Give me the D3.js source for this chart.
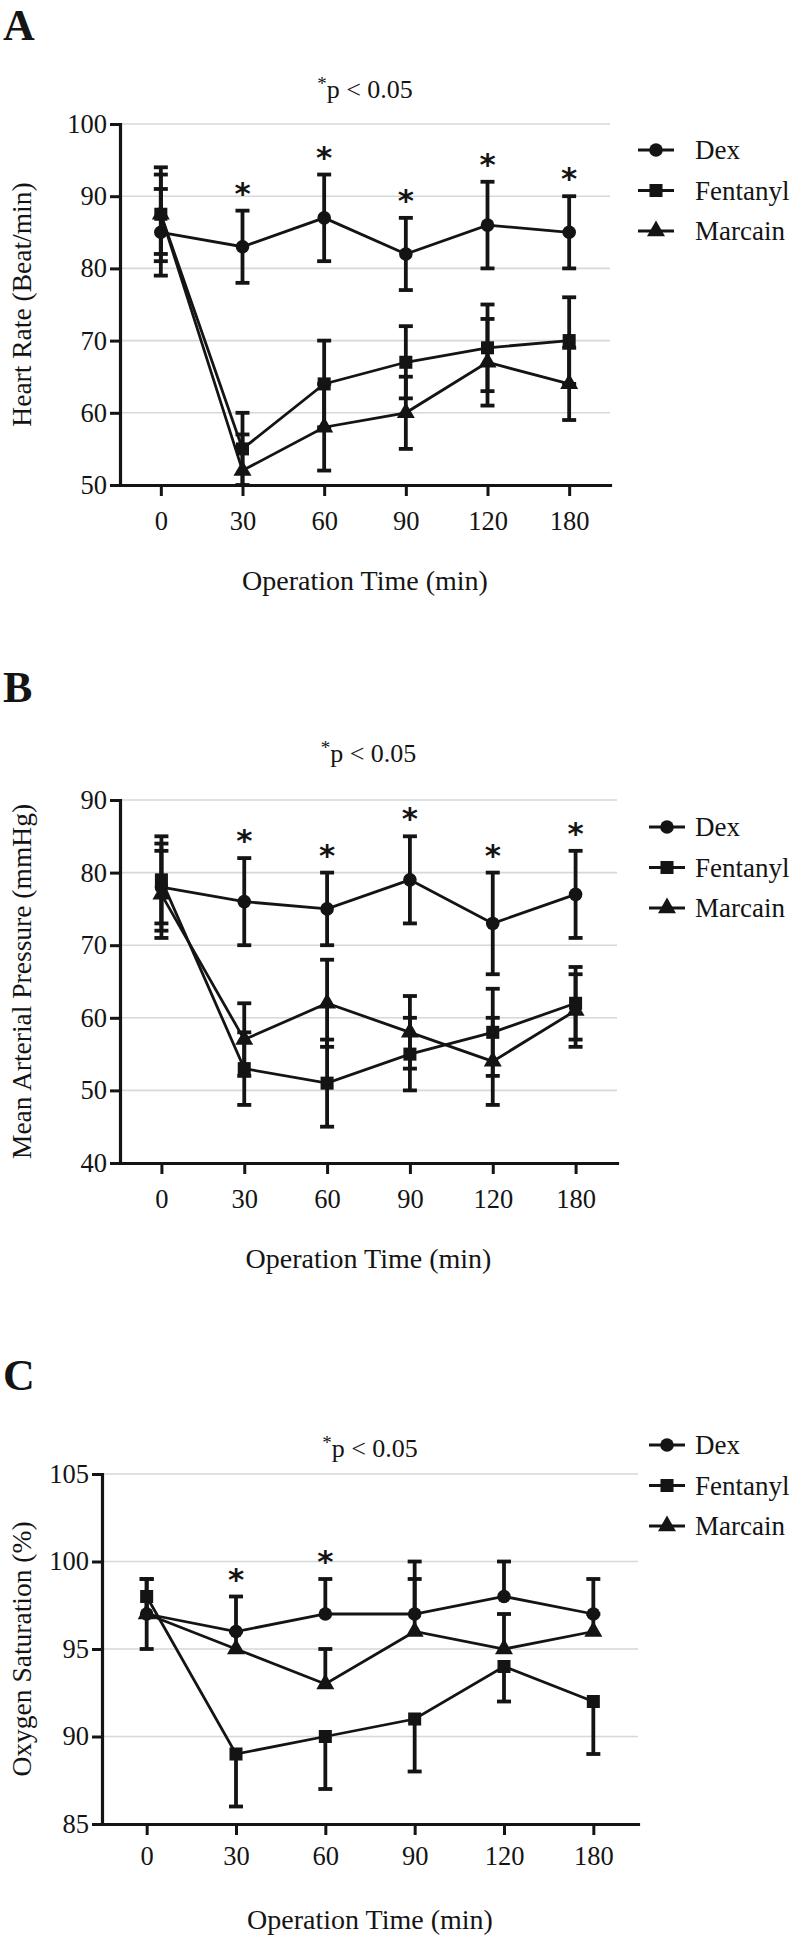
<!DOCTYPE html>
<html>
<head>
<meta charset="utf-8">
<script src="https://cdn.jsdelivr.net/npm/d3@7"></script>
<style>
  body { margin: 0; background: #fff; }
  svg { display: block; }
</style>
</head>
<body>
<div id="chart"></div>
<script>
// categories
const times = ["0", "30", "60", "90", "120", "180"];
const groups = ["Dex", "Fentanyl", "Marcain"];

// A - heart rate (mean, sd)
const hrDex = [85, 83, 87, 82, 86, 85];
const hrDexSd = [6, 5, 6, 5, 6, 5];
const hrFen = [87.5, 55, 64, 67, 69, 70];
const hrFenSd = [6.5, 5, 6, 5, 6, 6];
const hrMar = [87.5, 52, 58, 60, 67, 64];
const hrMarSd = [5.5, 5, 6, 5, 6, 5];
const hrTicks = [50, 60, 70, 80, 90, 100];
const hrStars = [false, true, true, true, true, true];

// B - mean arterial pressure
const mapDex = [78, 76, 75, 79, 73, 77];
const mapDexSd = [6, 6, 5, 6, 7, 6];
const mapFen = [79, 53, 51, 55, 58, 62];
const mapFenSd = [6, 5, 6, 5, 6, 5];
const mapMar = [77, 57, 62, 58, 54, 61];
const mapMarSd = [6, 5, 6, 5, 6, 5];
const mapTicks = [40, 50, 60, 70, 80, 90];
const mapStars = [false, true, true, true, true, true];

// C - oxygen saturation (one sided error bars)
const spoDex = [97, 96, 97, 97, 98, 97];
const spoDexSd = [2, 2, 2, 3, 2, 2];
const spoFen = [98, 89, 90, 91, 94, 92];
const spoFenSd = [3, 3, 3, 3, 2, 3];
const spoMar = [97, 95, 93, 96, 95, 96];
const spoMarSd = [2, 1, 2, 3, 2, 1];
const spoTicks = [85, 90, 95, 100, 105];
const spoStars = [false, true, true, false, false, false];

const ink = '#141414';
const serif = '"Liberation Serif", "Times New Roman", serif';

const svg = d3.select('#chart')
  .append('svg')
  .attr('width', 794)
  .attr('height', 1948)

const panels = [
  { letter: 'A', letterY: 40, top: 124, bottom: 485, left: 120, right: 610, titleY: 98,
    ticks: hrTicks, yLabel: 'Heart Rate (Beat/min)', xGap: 45, legendY: 150, legendX: 656,
    series: [[hrDex, hrDexSd, 'both'], [hrFen, hrFenSd, 'both'], [hrMar, hrMarSd, 'both']], stars: hrStars },
  { letter: 'B', letterY: 702, top: 800, bottom: 1163, left: 120, right: 617, titleY: 762,
    ticks: mapTicks, yLabel: 'Mean Arterial Pressure (mmHg)', xGap: 45, legendY: 827, legendX: 667,
    series: [[mapDex, mapDexSd, 'both'], [mapFen, mapFenSd, 'both'], [mapMar, mapMarSd, 'both']], stars: mapStars },
  { letter: 'C', letterY: 1390, top: 1474, bottom: 1824, left: 102, right: 638, titleY: 1457,
    ticks: spoTicks, yLabel: 'Oxygen Saturation (%)', xGap: 41, legendY: 1445, legendX: 667,
    series: [[spoDex, spoDexSd, 'up'], [spoFen, spoFenSd, 'down'], [spoMar, spoMarSd, 'up']], stars: spoStars }
];

const symbols = [d3.symbolCircle, d3.symbolSquare, d3.symbolTriangle];
const symSize = [145, 170, 140];

panels.forEach(p => {
  const g = svg.append('g');
  const lo = d3.min(p.ticks), hi = d3.max(p.ticks);

  const x = d3.scalePoint().domain(times).range([p.left, p.right]).padding(0.5);
  const y = d3.scaleLinear().domain([lo, hi]).range([p.bottom, p.top]);

  // panel letter
  g.append('text')
    .attr('x', 3).attr('y', p.letterY)
    .attr('font-family', serif).attr('font-weight', 'bold').attr('font-size', 44)
    .attr('fill', ink)
    .text(p.letter)

  // title with superscript star
  const t = g.append('text')
    .attr('x', (p.left + p.right) / 2).attr('y', p.titleY)
    .attr('text-anchor', 'middle')
    .attr('font-family', serif).attr('font-size', 26).attr('fill', ink)
  t.append('tspan').attr('font-size', 19).attr('dy', -8).text('*')
  t.append('tspan').attr('dy', 8).text('p < 0.05')

  // gridlines
  g.selectAll('.grid')
    .data(p.ticks.filter(v => v !== lo))
    .enter()
    .append('line')
    .attr('x1', p.left).attr('x2', p.right)
    .attr('y1', d => y(d)).attr('y2', d => y(d))
    .attr('stroke', '#d2dada').attr('stroke-width', 1.6)

  // axes
  const yAxis = d3.axisLeft(y).tickValues(p.ticks).tickSize(10).tickSizeOuter(0).tickPadding(3);
  const xAxis = d3.axisBottom(x).tickSize(11).tickSizeOuter(0).tickPadding(p.xGap - 11 - 19);

  const ya = g.append('g')
    .attr('transform', 'translate(' + p.left + ',0)')
    .call(yAxis)
  const xa = g.append('g')
    .attr('transform', 'translate(0,' + p.bottom + ')')
    .call(xAxis)

  ;[ya, xa].forEach(a => {
    a.select('.domain').attr('stroke', ink).attr('stroke-width', 3.2).attr('stroke-linecap', 'square')
    a.selectAll('.tick line').attr('stroke', ink).attr('stroke-width', 3)
    a.selectAll('.tick text').attr('font-family', serif).attr('font-size', 26.5).attr('fill', ink)
  })

  // axis titles
  g.append('text')
    .attr('transform', 'translate(31,' + (p.top + p.bottom) / 2 + ') rotate(-90)')
    .attr('text-anchor', 'middle')
    .attr('font-family', serif).attr('font-size', 27.5).attr('fill', ink)
    .text(p.yLabel)

  g.append('text')
    .attr('x', (p.left + p.right) / 2).attr('y', p.bottom + 105)
    .attr('text-anchor', 'middle')
    .attr('font-family', serif).attr('font-size', 28).attr('fill', ink)
    .text('Operation Time (min)')

  // series
  p.series.forEach((s, si) => {
    const [mean, sd, dir] = s;
    const pts = times.map((tm, i) => ({ t: tm, m: mean[i], sd: sd[i] }));
    const sg = g.append('g');

    // error bars
    pts.forEach(d => {
      const ends = [];
      if (dir !== 'down') ends.push(d.m + d.sd);
      if (dir !== 'up') ends.push(d.m - d.sd);
      ends.forEach(e => {
        const clipped = e < lo;
        const ev = clipped ? lo : e;
        sg.append('line')
          .attr('x1', x(d.t)).attr('x2', x(d.t))
          .attr('y1', y(d.m)).attr('y2', y(ev))
          .attr('stroke', ink).attr('stroke-width', 3.8)
        if (!clipped) {
          sg.append('line')
            .attr('x1', x(d.t) - 7).attr('x2', x(d.t) + 7)
            .attr('y1', y(ev)).attr('y2', y(ev))
            .attr('stroke', ink).attr('stroke-width', 3.8)
        }
      })
    })

    const line = d3.line().x(d => x(d.t)).y(d => y(d.m));
    sg.append('path')
      .datum(pts)
      .attr('d', line)
      .attr('fill', 'none')
      .attr('stroke', ink).attr('stroke-width', 2.8)

    sg.selectAll('.mk')
      .data(pts)
      .enter()
      .append('path')
      .attr('transform', d => 'translate(' + x(d.t) + ',' + y(d.m) + ')')
      .attr('d', d3.symbol().type(symbols[si]).size(symSize[si]))
      .attr('fill', ink)
  })

  // significance stars above Dex
  const dex = p.series[0];
  g.selectAll('.star')
    .data(times.filter((tm, i) => p.stars[i]))
    .enter()
    .append('text')
    .attr('x', d => x(d))
    .attr('y', d => {
      const i = times.indexOf(d);
      return y(dex[0][i] + dex[1][i]) - 26 + 19;
    })
    .attr('text-anchor', 'middle')
    .attr('font-family', '"DejaVu Sans", sans-serif').attr('font-weight', 'bold').attr('font-size', 31)
    .attr('fill', ink)
    .text('*')

  // legend
  const lg = g.append('g');
  groups.forEach((name, i) => {
    const ly = p.legendY + i * 40.5;
    lg.append('line')
      .attr('x1', p.legendX - 18).attr('x2', p.legendX + 18)
      .attr('y1', ly).attr('y2', ly)
      .attr('stroke', ink).attr('stroke-width', 3)
    lg.append('path')
      .attr('transform', 'translate(' + p.legendX + ',' + ly + ')')
      .attr('d', d3.symbol().type(symbols[i]).size(symSize[i]))
      .attr('fill', ink)
    lg.append('text')
      .attr('x', 695).attr('y', ly + 9)
      .attr('font-family', serif).attr('font-size', 27).attr('fill', ink)
      .text(name)
  })
})
</script>
</body>
</html>
